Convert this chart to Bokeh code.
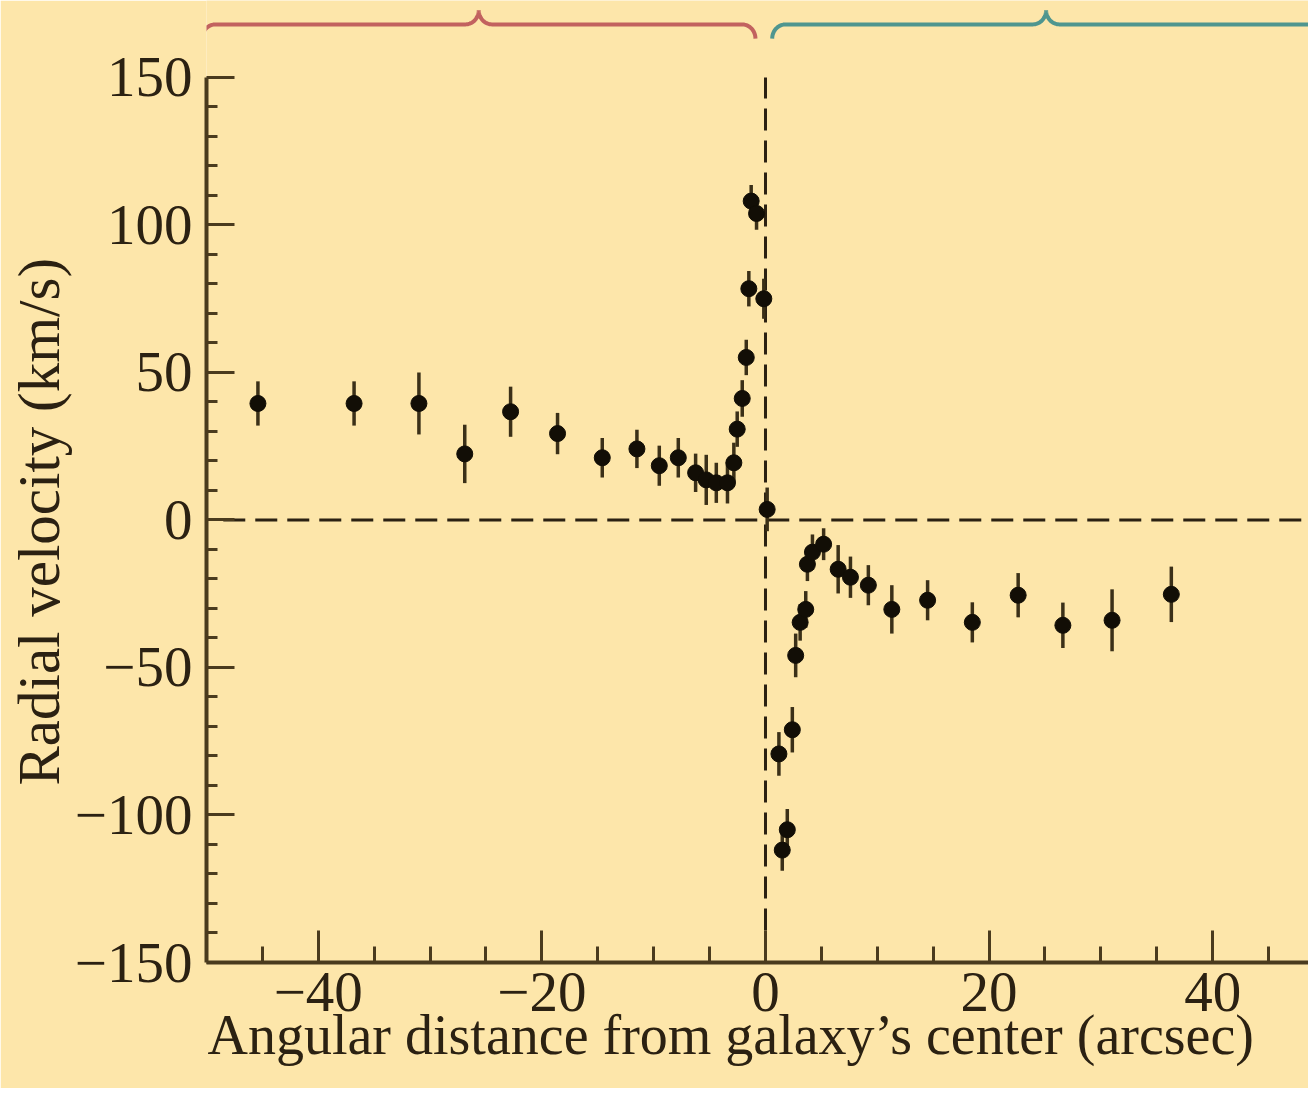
import numpy as np
from bokeh.plotting import figure
from bokeh.models import ColumnDataSource, FixedTicker, Range1d, Title
from bokeh.embed import file_html
from bokeh.resources import INLINE

# ---------------- data ----------------
angular_distance = [-45.4, -36.8, -31.0, -26.9, -22.8, -18.6, -14.6, -11.5, -9.5, -7.8,
                    -6.25, -5.3, -4.4, -3.4, -2.83, -2.53, -2.08, -1.72, -1.49, -1.28,
                    -0.8, -0.15, 0.15,
                    1.2, 1.5, 1.95, 2.4, 2.7, 3.1, 3.6, 3.75, 4.2, 5.2, 6.5, 7.6, 9.2,
                    11.3, 14.5, 18.5, 22.6, 26.6, 31.0, 36.3]
radial_velocity = [39.5, 39.5, 39.5, 22.4, 36.7, 29.3, 21.1, 24.1, 18.4, 21.1,
                   16.0, 13.6, 12.6, 12.6, 19.4, 30.8, 41.2, 55.1, 78.4, 108.1,
                   103.9, 75.0, 3.6,
                   -79.3, -111.9, -105.0, -71.1, -45.9, -34.7, -30.3, -15.0, -10.9, -8.2, -16.7, -19.4, -22.1,
                   -30.3, -27.2, -34.7, -25.5, -35.7, -34.0, -25.2]
velocity_error = [7.5, 7.5, 10.5, 9.9, 8.5, 7.0, 6.7, 6.5, 6.8, 6.7,
                  6.5, 8.5, 6.8, 7.0, 6.8, 6.0, 6.2, 6.0, 6.0, 5.5,
                  5.5, 6.8, 7.4,
                  7.4, 7.0, 7.0, 7.7, 7.4, 6.2, 6.2, 5.7, 6.0, 5.4, 8.2, 7.0, 6.8,
                  8.2, 6.8, 6.8, 7.5, 7.7, 10.5, 9.4]

x_major_ticks = [-40, -20, 0, 20, 40]
x_minor_ticks = [-45, -35, -30, -25, -15, -10, -5, 5, 10, 15, 25, 30, 35, 45]
x_tick_labels = ["\u221240", "\u221220", "0", "20", "40"]
y_major_ticks = [-150, -100, -50, 0, 50, 100, 150]
y_minor_ticks = [v for v in range(-140, 150, 10) if v % 50 != 0]
y_tick_labels = ["\u2212150", "\u2212100", "\u221250", "0", "50", "100", "150"]

x_label = "Angular distance from galaxy\u2019s center (arcsec)"
y_label = "Radial velocity (km/s)"

# brace spans (data units): approaching side and receding side
brace_spans = [(-50.4, -0.9), (0.6, 49.6)]
brace_colors = ["#c2625f", "#4f968f"]

# ---------------- styles ----------------
BG = "#FDE6AA"
INK = "#2b2112"
AXIS = "#4a3b1e"
FONT = "Liberation Serif"

X0, X1 = -50.0, 48.57
Y0, Y1 = -150.0, 176.1

p = figure(width=1308, height=1088,
           x_range=Range1d(X0, X1), y_range=Range1d(Y0, Y1),
           output_backend="svg", toolbar_location=None,
           min_border_left=206, min_border_right=0,
           min_border_top=0, min_border_bottom=126)
p.background_fill_color = BG
p.border_fill_color = BG
p.outline_line_color = None
p.grid.visible = False

# axes
p.xaxis.ticker = FixedTicker(ticks=x_major_ticks, minor_ticks=x_minor_ticks)
p.yaxis.ticker = FixedTicker(ticks=y_major_ticks, minor_ticks=y_minor_ticks)
p.xaxis.major_label_overrides = {t: s for t, s in zip(x_major_ticks, x_tick_labels)}
p.yaxis.major_label_overrides = {t: s for t, s in zip(y_major_ticks, y_tick_labels)}
p.yaxis.bounds = (-150, 150)

for ax in (p.xaxis[0], p.yaxis[0]):
    ax.axis_line_color = AXIS
    ax.axis_line_width = 4
    ax.major_tick_line_color = AXIS
    ax.minor_tick_line_color = AXIS
    ax.major_tick_line_width = 3
    ax.minor_tick_line_width = 3
    ax.major_tick_out = 0
    ax.minor_tick_out = 0
    ax.major_label_text_font = FONT
    ax.major_label_text_font_size = "57px"
    ax.major_label_text_color = INK

p.xaxis.major_tick_in = 32
p.xaxis.minor_tick_in = 16
p.yaxis.major_tick_in = 28
p.yaxis.minor_tick_in = 11
p.xaxis.major_label_standoff = 10
p.yaxis.major_label_standoff = 14

# axis titles (as side titles so they can be shifted like the original)
p.add_layout(Title(text=x_label, align="left", offset=1, standoff=-24,
                   text_font=FONT, text_font_size="56px", text_font_style="normal",
                   text_color=INK), "below")
p.add_layout(Title(text=y_label, align="left", offset=177, standoff=0,
                   text_font=FONT, text_font_size="59px", text_font_style="normal",
                   text_color=INK), "left")

# reference dashed lines
p.line([-48.5, X1], [0, 0], line_color=INK, line_width=3, line_dash="22 10")
p.line([0, 0], [-150, 150], line_color=INK, line_width=3, line_dash="22 10")

# data
x = np.array(angular_distance)
v = np.array(radial_velocity)
e = np.array(velocity_error)
src = ColumnDataSource(dict(x=x, v=v, lo=v - e, hi=v + e))
p.segment(x0="x", y0="lo", x1="x", y1="hi", source=src,
          line_color="#3b3018", line_width=3.5)
p.scatter(x="x", y="v", source=src, size=16, fill_color="#120e06",
          line_color="#120e06")

# braces above the plot
def brace(xa, xb, ybase=168.0, d=4.8, r=1.2, n=20):
    xm = 0.5 * (xa + xb)
    th = np.linspace(0, np.pi / 2, n)
    lx = xa + r * (1 - np.cos(th)); ly = ybase - d + d * np.sin(th)
    cx = xm - r + r * np.sin(th); cy = ybase + d * (1 - np.cos(th))
    left_x = np.concatenate([lx, cx]); left_y = np.concatenate([ly, cy])
    right_x = (2 * xm - left_x)[::-1]; right_y = left_y[::-1]
    return np.concatenate([left_x, right_x]), np.concatenate([left_y, right_y])

for (xa, xb), col in zip(brace_spans, brace_colors):
    bx, by = brace(xa, xb)
    p.line(bx, by, line_color=col, line_width=4)

open("out.html", "w").write(file_html(p, INLINE))
